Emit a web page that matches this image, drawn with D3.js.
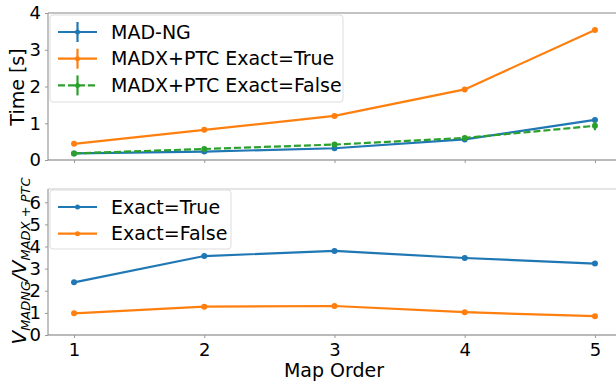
<!DOCTYPE html>
<html>
<head>
<meta charset="utf-8">
<script src="https://cdn.jsdelivr.net/npm/d3@7"></script>
<style>
  body { margin: 0; background: #fff; }
  text { font-family: "DejaVu Sans", sans-serif; fill: #000; }
</style>
</head>
<body>
<div id="chart"></div>
<script>
// map orders on the x axis
const orders = [1, 2, 3, 4, 5];
const xTicks = [1, 2, 3, 4, 5];

// top panel: run time in seconds
const timeMadng = [0.18, 0.23, 0.32, 0.56, 1.09];
const timeMadng_err = [0.01, 0.01, 0.01, 0.02, 0.03];
const timeExactTrue = [0.44, 0.82, 1.20, 1.92, 3.54];
const timeExactTrue_err = [0.01, 0.02, 0.02, 0.03, 0.04];
const timeExactFalse = [0.18, 0.30, 0.42, 0.60, 0.93];
const timeExactFalse_err = [0.02, 0.02, 0.02, 0.03, 0.12];
const timeTicks = [0, 1, 2, 3, 4];

// bottom panel: speed ratio
const ratioTrue = [2.38, 3.57, 3.80, 3.48, 3.23];
const ratioFalse = [0.98, 1.28, 1.31, 1.03, 0.85];
const ratioTicks = [0, 1, 2, 3, 4, 5, 6];

const blue = "#1f77b4", orange = "#ff7f0e", green = "#2ca02c";

var svg = d3.select("#chart").append("svg")
    .attr("width", 616)
    .attr("height", 383);

var x = d3.scaleLinear().domain([0.8, 5.2]).range([48, 621]);
var yTop = d3.scaleLinear().domain([0, 4]).range([160, 13]);
var yBot = d3.scaleLinear().domain([0, 6.6]).range([335, 189]);

// ---- frames ----
function frame(y, topColor) {
    var y0 = y.range()[0], y1 = y.range()[1];
    svg.append("line").attr("x1", 48).attr("x2", 616).attr("y1", y1).attr("y2", y1)
        .attr("stroke", topColor).attr("stroke-width", 1.2);
    svg.append("line").attr("x1", 48).attr("x2", 48).attr("y1", y1).attr("y2", y0)
        .attr("stroke", "#999").attr("stroke-width", 1.2);
    svg.append("line").attr("x1", 48).attr("x2", 616).attr("y1", y0).attr("y2", y0)
        .attr("stroke", "#777").attr("stroke-width", 1.2);
}
frame(yTop, "#888");
frame(yBot, "#ccc");

// ---- axes ----
function styleAxis(g) {
    g.select(".domain").remove();
    g.selectAll(".tick line").attr("stroke", "#999");
    g.selectAll(".tick text").style("font-size", "18px").style("font-family", "DejaVu Sans");
}
svg.append("g").attr("transform", "translate(0,160)")
    .call(d3.axisBottom(x).tickValues(xTicks).tickSize(3).tickFormat(""))
    .call(styleAxis);
svg.append("g").attr("transform", "translate(0,335)")
    .call(d3.axisBottom(x).tickValues(xTicks).tickSize(3).tickPadding(5).tickFormat(d3.format("d")))
    .call(styleAxis);
svg.append("g").attr("transform", "translate(48,0)")
    .call(d3.axisLeft(yTop).tickValues(timeTicks).tickSize(3).tickPadding(4).tickFormat(d3.format("d")))
    .call(styleAxis);
svg.append("g").attr("transform", "translate(48,0)")
    .call(d3.axisLeft(yBot).tickValues(ratioTicks).tickSize(3).tickPadding(4).tickFormat(d3.format("d")))
    .call(styleAxis);

// ---- labels ----
svg.append("text")
    .attr("text-anchor", "middle")
    .attr("transform", "translate(24,87) rotate(-90)")
    .style("font-size", "19px")
    .text("Time [s]");

var ylab = svg.append("text")
    .attr("text-anchor", "middle")
    .attr("transform", "translate(26,261) rotate(-90)")
    .style("font-size", "20px")
    .style("font-style", "italic");
ylab.append("tspan").text("V");
ylab.append("tspan").attr("dy", 4).style("font-size", "13px").text("MADNG");
ylab.append("tspan").attr("dy", -4).text("/V");
ylab.append("tspan").attr("dy", 4).style("font-size", "13px").text("MADX + PTC");

svg.append("text")
    .attr("x", 334).attr("y", 377)
    .attr("text-anchor", "middle")
    .style("font-size", "19px")
    .text("Map Order");

// ---- series ----
function series(vals, errs, y, color, dash) {
    var pts = orders.map(function(o, i) { return { x: o, y: vals[i], e: errs ? errs[i] : 0 }; });
    var line = d3.line().x(function(d) { return x(d.x); }).y(function(d) { return y(d.y); });
    svg.append("path").datum(pts)
        .attr("d", line)
        .attr("fill", "none")
        .attr("stroke", color)
        .attr("stroke-width", 2.2)
        .attr("stroke-dasharray", dash || null);
    if (errs) {
        svg.append("g").selectAll("line").data(pts).enter().append("line")
            .attr("x1", function(d) { return x(d.x); })
            .attr("x2", function(d) { return x(d.x); })
            .attr("y1", function(d) { return y(d.y - d.e); })
            .attr("y2", function(d) { return y(d.y + d.e); })
            .attr("stroke", color)
            .attr("stroke-width", 2.2);
    }
    svg.append("g").selectAll("circle").data(pts).enter().append("circle")
        .attr("cx", function(d) { return x(d.x); })
        .attr("cy", function(d) { return y(d.y); })
        .attr("r", 3)
        .attr("fill", color);
}
series(timeMadng, timeMadng_err, yTop, blue);
series(timeExactTrue, timeExactTrue_err, yTop, orange);
series(timeExactFalse, timeExactFalse_err, yTop, green, "7,3");

series(ratioTrue, null, yBot, blue);
series(ratioFalse, null, yBot, orange);

// ---- legends ----
function legend(x0, y0, w, h, items, errbar) {
    var g = svg.append("g");
    g.append("rect").attr("x", x0).attr("y", y0).attr("width", w).attr("height", h)
        .attr("rx", 3).attr("fill", "#fff").attr("fill-opacity", 0.8)
        .attr("stroke", "#ddd");
    items.forEach(function(it, i) {
        var cy = y0 + 17 + i * 26.7;
        g.append("line").attr("x1", x0 + 8).attr("x2", x0 + 47).attr("y1", cy).attr("y2", cy)
            .attr("stroke", it.color).attr("stroke-width", 2.2)
            .attr("stroke-dasharray", it.dash || null);
        if (errbar) {
            g.append("line").attr("x1", x0 + 27.5).attr("x2", x0 + 27.5)
                .attr("y1", cy - 10).attr("y2", cy + 10)
                .attr("stroke", it.color).attr("stroke-width", 2.2);
        }
        g.append("circle").attr("cx", x0 + 27.5).attr("cy", cy).attr("r", 2.5).attr("fill", it.color);
        g.append("text").attr("x", x0 + 61).attr("y", cy).attr("dy", "0.35em")
            .style("font-size", "19px").text(it.label);
    });
}
legend(50, 15, 293, 87, [
    { label: "MAD-NG", color: blue },
    { label: "MADX+PTC Exact=True", color: orange },
    { label: "MADX+PTC Exact=False", color: green, dash: "7,3" }
], true);
legend(50, 190, 181, 59, [
    { label: "Exact=True", color: blue },
    { label: "Exact=False", color: orange }
], false);
</script>
</body>
</html>
